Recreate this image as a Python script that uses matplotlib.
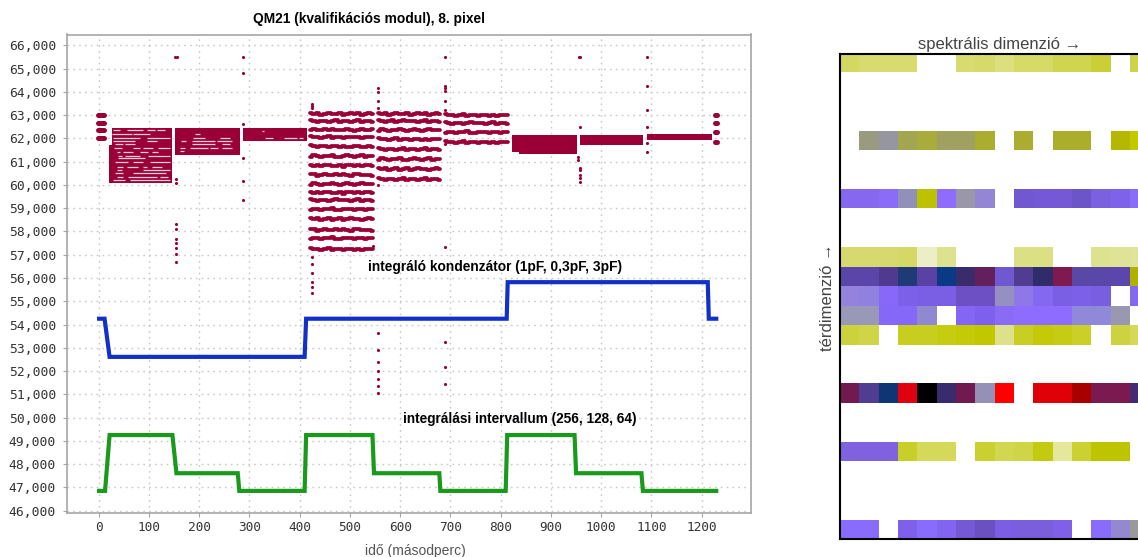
import matplotlib
matplotlib.use('Agg')
import matplotlib.pyplot as plt
from matplotlib.colors import to_rgb
import numpy as np

W = 1138
H = 557
plt.rcParams['font.family'] = ['Liberation Sans', 'DejaVu Sans']

# control lines
cap_x = [-3, 12, 22, 410, 413, 812, 814, 1212, 1214, 1233]
cap_y = [54250, 54250, 52610, 52610, 54250, 54250, 55820, 55820, 54250, 54250]
int_x = [-3, 13, 22, 147, 155, 277, 280, 410, 413, 545, 548, 678, 680, 810, 813, 947, 950, 1080, 1083, 1233]
int_y = [46850, 46850, 49250, 49250, 47610, 47610, 46850, 46850, 49250, 49250, 47610, 47610,
         46850, 46850, 49250, 49250, 47610, 47610, 46850, 46850]

# solid blocks of samples: x0, x1, y low, y high
block_x0 = [20, 27, 153, 287, 823, 836, 958, 1092]
block_x1 = [147, 147, 281, 415, 951, 951, 1084, 1220]
block_lo = [60090, 61700, 61280, 61900, 61400, 61330, 61720, 61930]
block_hi = [61700, 62430, 62430, 62430, 62150, 61400, 62150, 62170]

# white slits inside the blocks: y, x0, x1
slit_y = [62340, 62340, 62340, 62340, 62170, 62170, 62030, 62030, 61890, 61890, 61750, 61750,
          61580, 61580, 61580, 61580, 61400, 61400, 61400, 61400, 61260, 61260, 61260, 61150,
          60980, 60980, 60980, 60790, 60790, 60790, 60790, 60640, 60640, 60500, 60500, 60330,
          60330, 60330, 60190, 60190,
          62170, 62030, 62030, 61900, 61900, 61900, 61750, 61750, 61590, 61590, 61590, 61590, 61440,
          62310, 62030, 62030, 62030]
slit_x0 = [28, 56, 96, 116, 26, 69, 29, 96, 28, 96, 33, 53, 30, 69, 89, 119, 36, 49, 82, 106,
           39, 53, 99, 39, 33, 69, 102, 36, 56, 89, 106, 36, 89, 33, 69, 36, 59, 122, 29, 63,
           192, 188, 242, 165, 185, 235, 185, 245, 162, 182, 222, 245, 162,
           325, 331, 368, 398]
slit_x1 = [43, 89, 112, 132, 66, 102, 82, 142, 72, 116, 49, 72, 46, 82, 109, 142, 43, 69, 99, 119,
           46, 82, 142, 92, 59, 89, 142, 49, 79, 96, 126, 46, 142, 49, 135, 49, 116, 139, 53, 142,
           202, 212, 262, 175, 232, 265, 232, 262, 172, 218, 238, 265, 170,
           330, 348, 394, 407]

# wavy bands of samples
band_a_x = [421, 428, 436, 443, 450, 458, 465, 472, 480, 487, 494, 502, 509, 516, 524, 531, 538, 546]
band_a_y = [63050, 62730, 62370, 62050, 61650, 61240, 60830, 60430, 60040, 59670, 59340, 58950,
            58530, 58070, 57700, 57230]
band_b_x = [556, 563, 571, 578, 585, 592, 600, 607, 614, 621, 629, 636, 643, 650, 658, 665, 672, 679]
band_b_y = [63050, 62740, 62360, 61960, 61530, 61110, 60680, 60240]
band_c_x = [689, 696, 704, 711, 719, 726, 733, 741, 748, 756, 763, 770, 778, 785, 793, 800, 807, 815]
band_c_y = [62990, 62650, 62260, 61830]
wobble_1 = [40, 0, 30, -30, 10, 40, -20, 0, 30, -40, 10, 30, -10, 20, -30, 10, 30, 0]
wobble_2 = [50, 20, -30, 10, 30, -20, 10, 40, -10, 20, 0, -30, 20, 40, -20, 0, 10, -30]
wobble_3 = [-30, 30, 0, -30, 20, 0, 40, -20, -30, 10, 30, 0, -40, 10, 30, -20, 0, 20]

# start and end stubs
stub_a_x = [-2, 4, 11]
stub_a_y = [63000, 62680, 62350, 62000]
stub_b_x = [1226, 1229, 1231]
stub_b_y = [63000, 62650, 62260, 61830]

# stray samples
stray_x = [153, 156, 154, 154, 154, 154, 154, 154, 154, 154, 154,
           288, 288, 288, 288, 288, 288,
           424, 424, 424, 424, 424, 424, 424, 424, 424,
           555, 555, 555, 555, 555, 546, 555, 555, 555, 555, 555, 555, 555,
           689, 689, 689, 689, 689, 689, 689, 689, 689, 689, 689,
           955, 958, 958, 958, 958, 958, 958, 958, 953, 953,
           1092, 1092, 1092, 1092, 1092, 1092]
stray_y = [65510, 65510, 60240, 60100, 58320, 58100, 57670, 57490, 57290, 57030, 56700,
           65510, 64820, 62600, 61170, 60170, 59350,
           63480, 63370, 63300, 56920, 56600, 56200, 55840, 55600, 55340,
           64150, 64000, 63620, 63290, 59990, 57370, 53620, 52900, 52380, 52000, 51660, 51360, 51070,
           65510, 64250, 64150, 64050, 63600, 63220, 61760, 57320, 53240, 52180, 51460,
           65510, 65510, 62500, 60720, 60420, 60280, 60140, 60640, 61210, 61070,
           65510, 64240, 63220, 62500, 61790, 61430]

# heatmap rows, 16 columns, None is an empty cell
row_0 = ['#d3d863', '#d8dc6e', '#d8dc6e', '#d8dc6e', None, None, '#d8dc6e', '#d6da6a',
         '#dbdf7c', '#d6da66', '#d6da66', '#cfd54f', '#cfd54f', '#c9cf35', None, '#cdd34a']
row_4 = [None, '#9a9a80', '#9696a0', '#a3a650', '#a9ac3c', '#a0a060', '#a0a060', '#aaad2e',
         None, '#aaad30', None, '#aaae2a', '#aaae2a', None, '#b4b800', '#c4c800']
row_7 = ['#8668f0', '#8668f0', '#8a6cf8', '#9090b8', '#bcc200', '#8e6cff', '#9a98a8', '#9585d5',
         None, '#7258d0', '#7558d8', '#7558d5', '#6c55c8', '#7b60e0', '#7f62ea', '#8a6cf8']
row_10 = ['#d6da6e', '#d6da6e', '#d6da6e', '#d4d866', '#ecefc6', '#dde290', None, None,
          None, '#dce084', '#dce084', None, None, '#dde290', '#dfe396', '#e0e49a']
row_11 = ['#5b45a8', '#5b45a8', '#4f3a90', '#203a78', '#5a42a5', '#0a3a85', '#3a2c6c', '#64205c',
          '#7058d0', '#503c90', '#302c6c', '#7e1a50', '#5a48a8', '#5a48a8', '#5a46ac', '#b0b000']
row_12 = ['#9482dc', '#9080e0', '#8868f8', '#7c60ea', '#7a5ee4', '#7a5ee4', '#6c50c4', '#6c50c4',
          '#9490c0', '#8e78e8', '#8468f0', '#7a5ee4', '#7c60e8', '#7a5ee0', None, '#8468f0']
row_13 = ['#9a98b8', '#9a98b8', '#8668f8', '#8668f8', '#9088d0', None, '#8466f4', '#7e60ee',
          '#8a6cf4', '#8e6cff', '#8e6cff', '#8e6cff', '#9088d8', '#9088d8', '#9a98b0', None]
row_14 = ['#ccd23c', '#d0d548', None, '#c8ce1e', '#c8ce20', '#c6cc10', '#c4ca08', '#c2c800',
          '#dde28a', '#c8ce24', '#c4ca08', '#c6cc14', '#cad028', None, '#cdd340', '#d4d95a']
row_17 = ['#701a50', '#503c90', '#0f3575', '#e00010', '#000000', '#3a2c6c', '#701a50', '#9590b8',
          '#ff0000', None, '#e00008', '#e00008', '#a80000', '#7a1a50', '#7a1a50', '#452a70']
row_20 = ['#7f62e0', '#7f62e0', '#7f62e0', '#c8ce2a', '#d4d95a', '#d4d95a', None, '#cad030',
          '#d2d750', '#d0d548', '#c4ca10', '#e4e79c', '#cbd130', '#bfc400', '#bfc400', None]
row_24 = ['#8a6cfc', '#8a6cfc', None, '#7e60ea', '#8a6cfc', '#8264f0', '#7458d4', '#6a50c0',
          '#7c5ee4', '#7a5edc', '#7a5edc', '#8060e8', None, '#8a6cfc', '#9488d0', '#9a9a9a']
heat_rows = {0: row_0, 4: row_4, 7: row_7, 10: row_10, 11: row_11, 12: row_12, 13: row_13,
             14: row_14, 17: row_17, 20: row_20, 24: row_24}

x_ticks = list(range(0, 1300, 100))
y_ticks = list(range(46000, 67000, 1000))

crimson = '#9a0036'
fig = plt.figure(figsize=(W / 100, H / 100), dpi=100)

# left chart
ax = fig.add_axes([67 / W, 1 - 513 / H, (751 - 67) / W, (513 - 34.5) / H])
ax.set_xlim(-62.7, 1298)
ax.set_ylim(45900, 66464)
ax.grid(True, color='#c8c8c8', linestyle=(0, (1.2, 3)), linewidth=1)
ax.set_axisbelow(True)
for s in ax.spines.values():
    s.set_color('#a6a6a6')
    s.set_linewidth(1.2)
ax.set_xticks(x_ticks)
ax.set_yticks(y_ticks)
ax.set_yticklabels(['{:,}'.format(v) for v in y_ticks], family='DejaVu Sans Mono', fontsize=9.4, color='#333333')
ax.set_xticklabels([str(v) for v in x_ticks], family='DejaVu Sans Mono', fontsize=9.2, color='#333333')
ax.tick_params(axis='both', length=3, color='#a6a6a6', pad=5)
ax.tick_params(axis='x', pad=3)

for x0, x1, lo, hi in zip(block_x0, block_x1, block_lo, block_hi):
    ax.fill_between([x0, x1], lo, hi, color=crimson, linewidth=0, zorder=3)
ax.hlines(slit_y, slit_x0, slit_x1, color='#f0ccd8', linewidth=0.9, zorder=3.5)

wobbles = [wobble_1, wobble_2, wobble_3]
for bx, levels in [(band_a_x, band_a_y), (band_b_x, band_b_y), (band_c_x, band_c_y)]:
    for i, level in enumerate(levels):
        ax.plot(bx, np.array(wobbles[i % 3]) + level, color=crimson, linewidth=2.7,
                drawstyle='steps-mid', solid_capstyle='round', solid_joinstyle='round', zorder=3)
for sx, levels in [(stub_a_x, stub_a_y), (stub_b_x, stub_b_y)]:
    for level in levels:
        ax.plot(sx, [level] * len(sx), color=crimson, linewidth=3.6, solid_capstyle='round', zorder=3)
ax.scatter(stray_x, stray_y, s=5, color=crimson, linewidths=0, zorder=3)

ax.plot(cap_x, cap_y, color='#1030c8', linewidth=3, solid_joinstyle='miter', solid_capstyle='butt', zorder=4)
ax.plot(int_x, int_y, color='#1a9a1a', linewidth=3, solid_joinstyle='miter', solid_capstyle='butt', zorder=4)

ax.text(536, 56470, 'integráló kondenzátor (1pF, 0,3pF, 3pF)', fontsize=9.95, fontweight='bold', va='center', zorder=5)
ax.text(606, 49940, 'integrálási intervallum (256, 128, 64)', fontsize=9.85, fontweight='bold', va='center', zorder=5)
fig.text(369 / W, 1 - 19 / H, 'QM21 (kvalifikációs modul), 8. pixel', fontsize=9.9, fontweight='bold',
         ha='center', va='center')
fig.text(415 / W, 1 - 551 / H, 'idő (másodperc)', fontsize=10, color='#555555', ha='center', va='center')

# right heatmap, cut off by the picture edge
hm = fig.add_axes([839.5 / W, 1 - 539.3 / H, (W - 839.5) / W, (539.3 - 54) / H])
img = np.ones((25, 16, 3))
for r, cells in heat_rows.items():
    for c, col in enumerate(cells):
        if col is not None:
            img[r, c] = to_rgb(col)
hm.imshow(img, aspect='auto', interpolation='nearest')
hm.set_xlim(-0.5, -0.5 + (W - 839.5) / 19.3)
hm.set_ylim(24.5, -0.5)
hm.set_xticks([])
hm.set_yticks([])
hm.spines['right'].set_visible(False)
for k in ['left', 'top', 'bottom']:
    hm.spines[k].set_linewidth(1.5)
    hm.spines[k].set_color('black')
fig.text(999.5 / W, 1 - 45 / H, 'spektrális dimenzió →', fontsize=12, color='#444444', ha='center', va='center')
fig.text(828 / W, 1 - 297 / H, 'térdimenzió →', fontsize=12, color='#444444', rotation=90, ha='center', va='center')

fig.savefig('out.png', dpi=100)
